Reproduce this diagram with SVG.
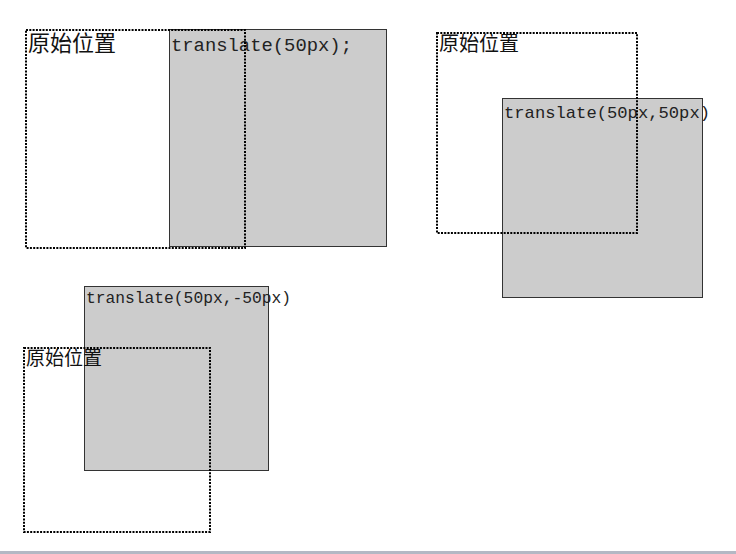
<svg xmlns="http://www.w3.org/2000/svg" width="736" height="554" viewBox="0 0 736 554">
<style>
.moved{fill:#cccccc;stroke:#333333;stroke-width:1}
.orig{fill:none;stroke:#000000;stroke-width:2;stroke-dasharray:2 1.3}
.cjk{font-family:"Noto Sans CJK SC","Noto Sans",sans-serif;fill:#111111}
.mono{font-family:"Liberation Mono","DejaVu Sans Mono",monospace;fill:#222222}
</style>
<rect width="736" height="554" fill="#ffffff"/>
<g id="panel1">
<rect class="moved" x="169.5" y="29.5" width="217" height="217"/>
<text class="mono" x="171" y="51" font-size="19" textLength="181" lengthAdjust="spacingAndGlyphs">translate(50px);</text>
<rect class="orig" x="26" y="30" width="219" height="218"/>
<text class="cjk" x="28" y="51" font-size="22">原始位置</text>
</g>
<g id="panel2">
<rect class="moved" x="502.5" y="98.5" width="200" height="199"/>
<text class="mono" x="504" y="118" font-size="17" textLength="206" lengthAdjust="spacingAndGlyphs">translate(50px,50px)</text>
<rect class="orig" x="437" y="33" width="200" height="200"/>
<text class="cjk" x="439" y="51" font-size="20">原始位置</text>
</g>
<g id="panel3">
<rect class="moved" x="84.5" y="286.5" width="184" height="184"/>
<text class="mono" x="86" y="303" font-size="16.5" textLength="205" lengthAdjust="spacingAndGlyphs">translate(50px,-50px)</text>
<rect class="orig" x="24" y="348" width="186" height="184"/>
<text class="cjk" x="26" y="365" font-size="19">原始位置</text>
</g>
<g id="connectors"></g>
<rect x="0" y="551" width="736" height="3" fill="#b4b8c4"/>
</svg>
